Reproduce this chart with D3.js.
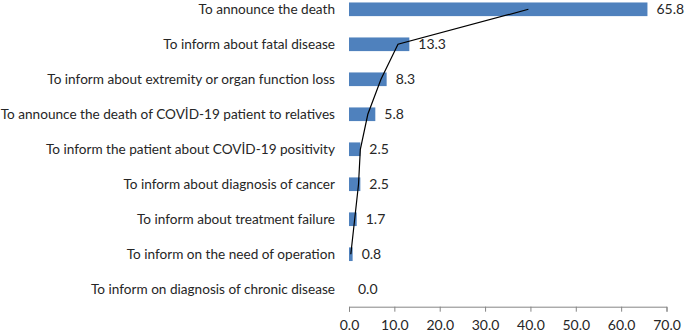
<!DOCTYPE html>
<html>
<head>
<meta charset="utf-8">
<script src="https://cdn.jsdelivr.net/npm/d3@7"></script>
<style>
  body { margin: 0; background: #fff; }
  svg { display: block; }
  text { font-family: Lato, "Open Sans", sans-serif; fill: #262626; }
</style>
</head>
<body>
<div id="chart"></div>
<script>
//////////////////////////// data /////////////////////////////////////////

// top to bottom, as drawn
const categories = [
  "To announce the death",
  "To inform about fatal disease",
  "To inform about extremity or organ function loss",
  "To announce the death of COVİD-19 patient to relatives",
  "To inform the patient about COVİD-19 positivity",
  "To inform about diagnosis of cancer",
  "To inform about treatment failure",
  "To inform on the need of operation",
  "To inform on diagnosis of chronic disease"
];
const values = [65.8, 13.3, 8.3, 5.8, 2.5, 2.5, 1.7, 0.8, 0.0];
const xTicks = [0, 10, 20, 30, 40, 50, 60, 70];

//////////////////////////// sizes ////////////////////////////////////////

const width = 685;
const height = 334;
const margin = { top: -8.2, left: 349, right: 18.5, bottom: 27.3 };

const svg = d3.select("#chart").append("svg")
  .attr("width", width)
  .attr("height", height);

//////////////////////////// scales ///////////////////////////////////////

const xScale = d3.scaleLinear()
  .domain([0, 70])
  .range([margin.left, width - margin.right]);

const yScale = d3.scaleBand()
  .domain(categories)
  .range([margin.top, height - margin.bottom])
  .paddingInner(0.61)
  .paddingOuter(0.305);

//////////////////////////// bars /////////////////////////////////////////

svg.append("g")
  .selectAll("rect")
  .data(values)
  .join("rect")
  .attr("x", xScale(0))
  .attr("y", (d, i) => yScale(categories[i]))
  .attr("width", d => xScale(d) - xScale(0))
  .attr("height", yScale.bandwidth())
  .attr("fill", "#4f81bd");

// value labels
svg.append("g")
  .selectAll("text")
  .data(values)
  .join("text")
  .attr("x", d => xScale(d) + 9)
  .attr("y", (d, i) => yScale(categories[i]) + yScale.bandwidth() / 2)
  .attr("dy", "0.36em")
  .style("font-size", "14px")
  .text(d => d.toFixed(1));

// category labels
svg.append("g")
  .selectAll("text")
  .data(categories)
  .join("text")
  .attr("x", xScale(0) - 14)
  .attr("y", d => yScale(d) + yScale.bandwidth() / 2)
  .attr("dy", "0.36em")
  .attr("text-anchor", "end")
  .style("font-size", "13.6px")
  .text(d => d);

//////////////////////////// trendline ////////////////////////////////////

// 2-period moving average, running from the bottom category upwards
const order = d3.range(values.length).reverse();
const movAvg = order.slice(1).map((idx, k) => ({
  cat: categories[idx],
  v: (values[idx] + values[order[k]]) / 2
}));

svg.append("path")
  .datum(movAvg)
  .attr("fill", "none")
  .attr("stroke", "#000")
  .attr("stroke-width", 1.2)
  .attr("d", d3.line()
    .x(d => xScale(d.v))
    .y(d => yScale(d.cat) + yScale.bandwidth() / 2));

//////////////////////////// axis /////////////////////////////////////////

const xAxis = svg.append("g")
  .attr("transform", `translate(0,${height - margin.bottom})`)
  .call(d3.axisBottom(xScale)
    .tickValues(xTicks)
    .tickSize(5)
    .tickFormat(d3.format(".1f")));

xAxis.select(".domain").attr("stroke", "#868686");
xAxis.selectAll(".tick line").attr("stroke", "#868686");
xAxis.selectAll(".tick text")
  .attr("y", 13)
  .style("font-size", "14px")
  .style("font-family", "Lato, 'Open Sans', sans-serif")
  .attr("fill", "#262626");
</script>
</body>
</html>
